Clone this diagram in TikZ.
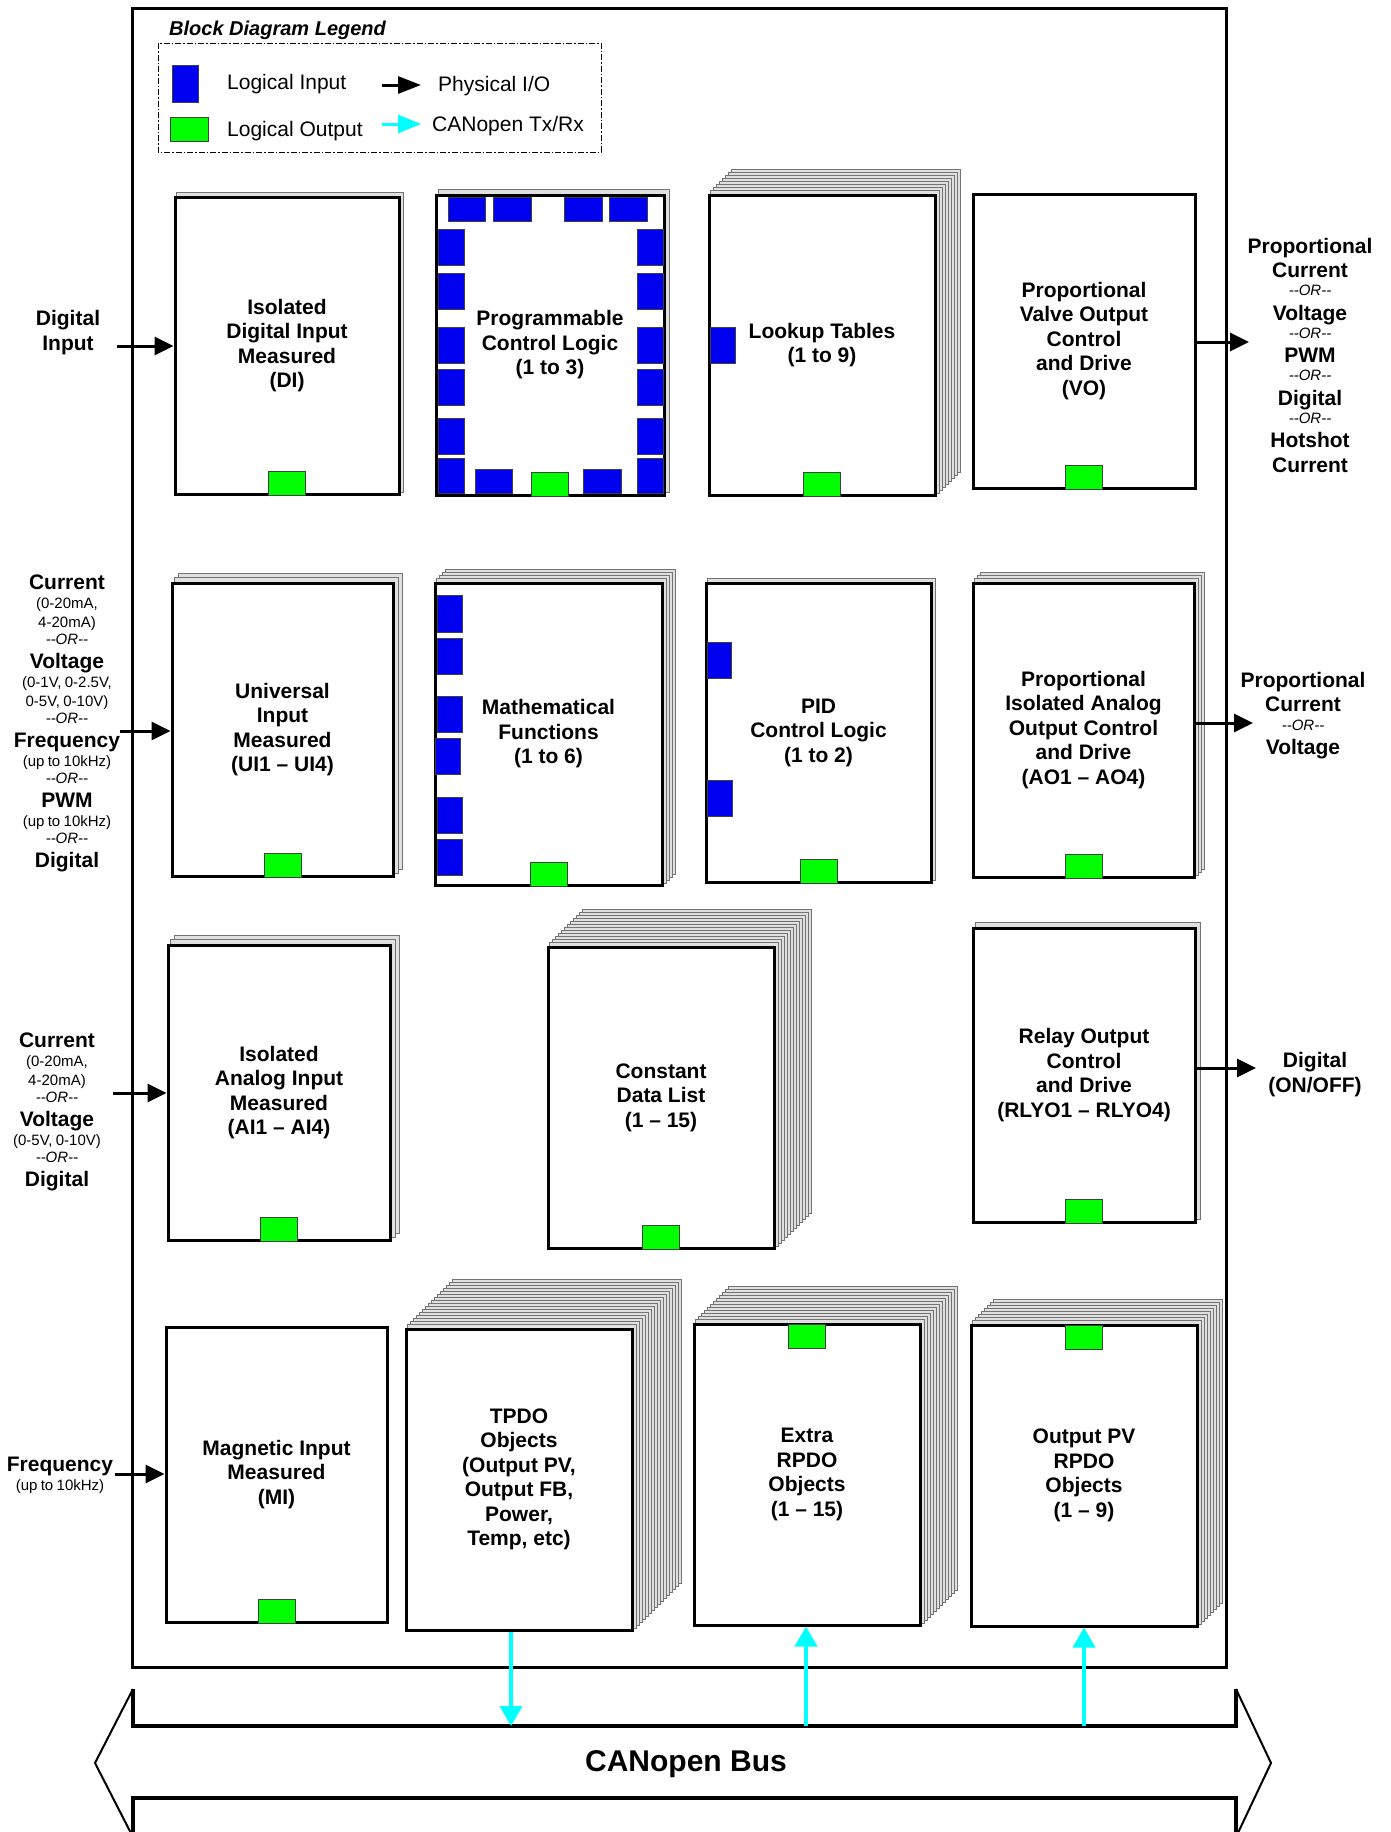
\documentclass[tikz,border=0pt]{standalone}
\usepackage{fontspec}
\setmainfont{Liberation Sans}
\usetikzlibrary{arrows.meta,backgrounds}
\definecolor{lblue}{RGB}{0,0,240}
\definecolor{lgreen}{RGB}{0,255,0}
\definecolor{lcyan}{RGB}{0,255,255}
\newcommand\dd{-\kern0pt-}
\def\bsk{24}\def\ssk{19}\def\osk{17}
\newcommand\BL[1]{{\fontsize{21}{\bsk}\selectfont\bfseries #1\par}}
\newcommand\SL[1]{{\fontsize{15}{\ssk}\selectfont #1\par}}
\newcommand\OL{{\fontsize{15}{\osk}\selectfont\itshape \dd OR\dd\par}}
\newcommand\stk[3]{\begin{scope}[on background layer]\foreach \i in {#2,...,1}{\filldraw[pagesty] ([shift={(\i*#3,-\i*#3)}]#1.south west) rectangle ([shift={(\i*#3,-\i*#3)}]#1.north east);}\end{scope}}
\newcommand\gbot[1]{\filldraw[gsq] ([xshift=-18.5pt]#1.south) rectangle ([xshift=18.5pt,yshift=24pt]#1.south);}
\newcommand\gtop[1]{\filldraw[gsq] ([xshift=-18.5pt,yshift=-2pt]#1.north) rectangle ([xshift=18.5pt,yshift=-26pt]#1.north);}
\newcommand\bsq[4]{\filldraw[bsqs] (#1,#2) rectangle (#3,#4);}
\begin{document}
\begin{tikzpicture}[x=1pt,y=-1pt,
  blk/.style={draw, line width=3pt, fill=white, align=center, inner sep=0pt,
    font=\bfseries\fontsize{21}{24.5}\selectfont},
  pagesty/.style={fill=black!12, draw=black!55, line width=1.2pt},
  gsq/.style={fill=lgreen, draw=black!75, line width=0.8pt},
  bsqs/.style={fill=lblue, draw=black!75, line width=0.8pt},
  lbl/.style={align=center, text width=140pt, inner sep=0pt, anchor=north},
  phys/.style={draw=black, line width=3pt, -{Triangle[length=19pt,width=18pt]}},
  can/.style={draw=lcyan, line width=4pt, -{Triangle[length=20pt,width=22pt]}},
  legtxt/.style={anchor=base west, inner sep=0pt, font=\fontsize{21}{25}\selectfont}]
\useasboundingbox (0,0) rectangle (1391,1832);
\begin{scope}[on background layer]
\fill[white] (0,0) rectangle (1391,1832);
\end{scope}

% outer frame
\draw[line width=3pt] (132,8) rectangle (1226,1667);

% legend
\node[anchor=base west, inner sep=0pt, font=\bfseries\itshape\fontsize{20}{24}\selectfont] (legtitle) at (169,35) {Block Diagram Legend};
\draw[line width=1pt, dash pattern=on 6pt off 2pt on 1.5pt off 2pt] (158,43) rectangle (601,152);
\filldraw[bsqs] (172,65) rectangle (198,102);
\filldraw[gsq] (170,117) rectangle (208,141);
\node[legtxt] (leginput) at (227,89) {Logical Input};
\node[legtxt] (legoutput) at (227,136) {Logical Output};
\node[legtxt] (legphys) at (438,91) {Physical I/O};
\node[legtxt] (legcan) at (432,131) {CANopen Tx/Rx};
\coordinate (lga) at (382,85); \coordinate (lgb) at (421,85);
\draw[draw=black, line width=3pt, -{Triangle[length=23pt,width=17pt]}] (lga) -- (lgb);
\coordinate (lgc) at (382,124); \coordinate (lgd) at (421,124);
\draw[draw=lcyan, line width=3pt, -{Triangle[length=23pt,width=18pt]}] (lgc) -- (lgd);

% row 1
\node[blk, minimum width=224pt, minimum height=297pt] (di) at (287,345.5) {Isolated\\Digital Input\\Measured\\(DI)};
\stk{di}{1}{3}\gbot{di}
\node[blk, minimum width=228pt, minimum height=300pt] (pcl) at (550,345) {Programmable\\Control Logic\\(1 to 3)};
\stk{pcl}{1}{4}
\bsq{448}{197}{485}{221}\bsq{493}{197}{531}{221}\bsq{564}{197}{602}{221}\bsq{609}{197}{647}{221}
\foreach \a/\b in {229/265,273/309,327/363,369/405,418/454,458/493}{\bsq{438}{\a}{464}{\b}\bsq{637}{\a}{663}{\b}}
\bsq{475}{469}{512}{493}\bsq{583}{469}{621}{493}
\gbot{pcl}
\node[blk, minimum width=226pt, minimum height=300pt] (lt) at (822,345) {Lookup Tables\\(1 to 9)};
\stk{lt}{8}{3}\gbot{lt}
\bsq{710}{327}{735}{363}
\node[blk, minimum width=222pt, minimum height=294pt] (vo) at (1084,341) {Proportional\\Valve Output\\Control\\and Drive\\(VO)};
\gbot{vo}

% row 2
\node[blk, minimum width=221pt, minimum height=293pt] (ui) at (282.5,729.5) {Universal\\Input\\Measured\\(UI1 – UI4)};
\stk{ui}{2}{4}\gbot{ui}
\node[blk, minimum width=227pt, minimum height=302pt] (math) at (548.5,734) {Mathematical\\Functions\\(1 to 6)};
\stk{math}{4}{3}\gbot{math}
\foreach \a/\b in {595/632,638/674,696/732,797/833,839/875}{\bsq{437}{\a}{462}{\b}}
\bsq{435}{738}{460}{774}
\node[blk, minimum width=225pt, minimum height=299pt] (pid) at (818.5,732.5) {PID\\Control Logic\\(1 to 2)};
\stk{pid}{1}{3}\gbot{pid}
\bsq{707}{642}{731}{678}\bsq{707}{780}{732}{816}
\node[blk, minimum width=221pt, minimum height=294pt] (ao) at (1083.5,730) {Proportional\\Isolated Analog\\Output Control\\and Drive\\(AO1 – AO4)};
\stk{ao}{3}{3}\gbot{ao}

% row 3
\node[blk, minimum width=222pt, minimum height=295pt] (ai) at (279,1092.5) {Isolated\\Analog Input\\Measured\\(AI1 – AI4)};
\stk{ai}{2}{4}\gbot{ai}
\node[blk, minimum width=226pt, minimum height=301pt] (cdl) at (661,1097.5) {Constant\\Data List\\(1 – 15)};
\stk{cdl}{12}{3}\gbot{cdl}
\node[blk, minimum width=222pt, minimum height=294pt] (rly) at (1084,1075) {Relay Output\\Control\\and Drive\\(RLYO1 – RLYO4)};
\stk{rly}{1}{4}\gbot{rly}

% row 4
\node[blk, minimum width=221pt, minimum height=295pt] (mi) at (276.5,1474.5) {Magnetic Input\\Measured\\(MI)};
\gbot{mi}
\node[blk, minimum width=226pt, minimum height=301pt] (tpdo) at (519,1479.5) {TPDO\\Objects\\(Output PV,\\Output FB,\\Power,\\Temp, etc)};
\stk{tpdo}{16}{3}
\node[blk, minimum width=226pt, minimum height=301pt] (xrp) at (807,1474.5) {Extra\\RPDO\\Objects\\(1 – 15)};
\stk{xrp}{12}{3}\gtop{xrp}
\node[blk, minimum width=226pt, minimum height=301pt] (opv) at (1084,1475.5) {Output PV\\RPDO\\Objects\\(1 – 9)};
\stk{opv}{8}{3}\gtop{opv}

% external labels
\node[lbl] (dilbl) at (68,310) {\def\bsk{25}\BL{Digital}\BL{Input}};
\node[lbl] (uilbl) at (67,575) {\BL{Current}\SL{(0-20mA,}\SL{4-20mA)}\OL\BL{Voltage}\SL{(0-1V, 0-2.5V,}\SL{0-5V, 0-10V)}\OL\BL{Frequency}\SL{(up to 10kHz)}\OL\BL{PWM}\SL{(up to 10kHz)}\OL\BL{Digital}};
\node[lbl] (ailbl) at (57,1033) {\BL{Current}\SL{(0-20mA,}\SL{4-20mA)}\OL\BL{Voltage}\SL{(0-5V, 0-10V)}\OL\BL{Digital}};
\node[lbl] (milbl) at (60,1457) {\BL{Frequency}\SL{(up to 10kHz)}};
\node[lbl] (volbl) at (1310,238) {\def\bsk{24.5}\def\osk{18}\BL{Proportional}\BL{Current}\OL\BL{Voltage}\OL\BL{PWM}\OL\BL{Digital}\OL\BL{Hotshot}\BL{Current}};
\node[lbl] (aolbl) at (1303,672) {\def\bsk{24}\def\osk{19}\BL{Proportional}\BL{Current}\OL\BL{Voltage}};
\node[lbl] (rlylbl) at (1315,1052) {\def\bsk{25}\BL{Digital}\BL{(ON/OFF)}};

% physical I/O arrows
\coordinate (diin) at (117,346);
\coordinate (uiin) at (120,731);
\coordinate (aiin) at (113,1093);
\coordinate (miin) at (115,1474);
\coordinate (voout) at (1249,342);
\coordinate (aoout) at (1253,723);
\coordinate (rlyout) at (1256,1068);
\draw[phys] (diin) -- (diin -| di.west);
\draw[phys] (uiin) -- (uiin -| ui.west);
\draw[phys] (aiin) -- (aiin -| ai.west);
\draw[phys] (miin) -- (miin -| mi.west);
\draw[phys] (voout -| vo.east) -- (voout);
\draw[phys] (aoout -| ao.east) -- (aoout);
\draw[phys] (rlyout -| rly.east) -- (rlyout);

% CANopen bus
\draw[line width=2pt, line join=miter] (133,1689) -- (95,1763) -- (130.4,1832);
\draw[line width=2pt, line join=miter] (1236,1689) -- (1271,1763) -- (1238.4,1832);
\draw[line width=3.5pt, line join=miter] (133,1689) -- (133,1726) -- (1236,1726) -- (1236,1689);
\draw[line width=3.5pt, line join=miter] (133,1832) -- (133,1798) -- (1236,1798) -- (1236,1832);
\node[inner sep=0pt, font=\bfseries\fontsize{30}{36}\selectfont] (bus) at (686,1764) {CANopen Bus};

% CANopen Tx/Rx arrows
\coordinate (busa) at (511,1726);
\coordinate (busb) at (806,1726);
\coordinate (busc) at (1084,1726);
\draw[can] (busa |- tpdo.south) -- (busa);
\draw[can] (busb) -- (busb |- xrp.south);
\draw[can] (busc) -- (busc |- opv.south);
\end{tikzpicture}
\end{document}
